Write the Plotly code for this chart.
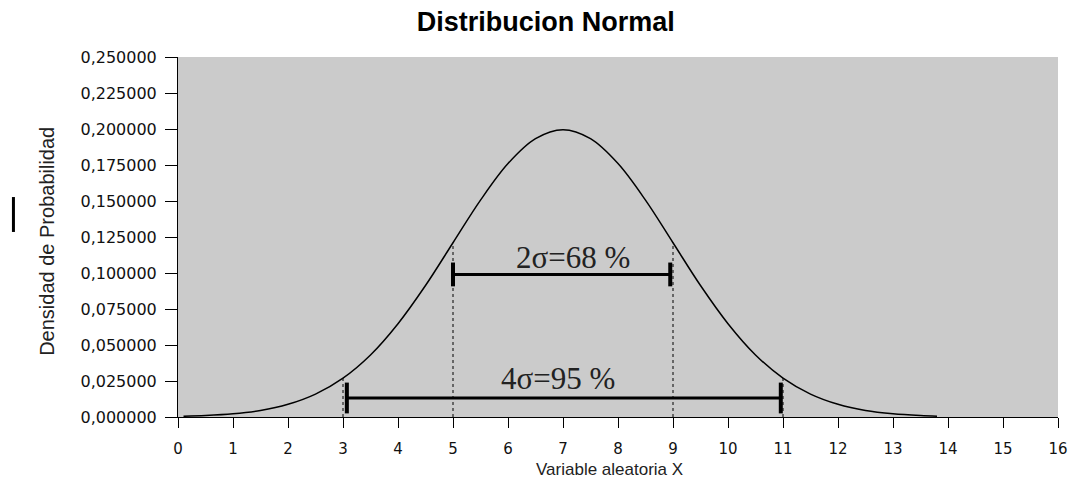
import plotly.graph_objects as go

# Curve values (mean 7, sigma 2)
x_vals = [0.1, 0.5, 1, 1.5, 2, 2.5, 3, 3.5, 4, 4.5, 5, 5.5, 6, 6.5, 7,
          7.5, 8, 8.5, 9, 9.5, 10, 10.5, 11, 11.5, 12, 12.5, 13, 13.5, 13.8]
y_vals = [0.0005, 0.0010, 0.0022, 0.0045, 0.0088, 0.0159, 0.0270, 0.0431,
          0.0648, 0.0913, 0.1210, 0.1506, 0.1760, 0.1933, 0.1995,
          0.1933, 0.1760, 0.1506, 0.1210, 0.0913, 0.0648, 0.0431, 0.0270,
          0.0159, 0.0088, 0.0045, 0.0022, 0.0010, 0.0006]

# Dashed guide lines (x position, curve height)
guide_x = [3, 5, 9, 11]
guide_top = [0.027, 0.121, 0.121, 0.027]

# Interval bars
band_2s_x = [5.0, 8.95]
band_2s_y = 0.099
band_4s_x = [3.07, 10.96]
band_4s_y = 0.0132
label_2s = "2σ=68 %"
label_4s = "4σ=95 %"

x_ticks = list(range(0, 17))
y_ticks = [0, 0.025, 0.05, 0.075, 0.1, 0.125, 0.15, 0.175, 0.2, 0.225, 0.25]

fig = go.Figure()

for gx, gt in zip(guide_x, guide_top):
    fig.add_trace(go.Scatter(x=[gx, gx], y=[0, gt], mode='lines',
                             line=dict(color='black', width=1, dash='3px,3px'),
                             hoverinfo='skip'))

fig.add_trace(go.Scatter(x=x_vals, y=y_vals, mode='lines',
                         line=dict(color='black', width=1.5, shape='spline')))

fig.add_trace(go.Scatter(x=band_2s_x, y=[band_2s_y, band_2s_y], mode='lines+markers',
                         line=dict(color='black', width=3),
                         marker=dict(symbol='line-ns', size=17,
                                     line=dict(color='black', width=4))))
fig.add_trace(go.Scatter(x=band_4s_x, y=[band_4s_y, band_4s_y], mode='lines+markers',
                         line=dict(color='black', width=3),
                         marker=dict(symbol='line-ns', size=22,
                                     line=dict(color='black', width=4))))

fig.add_annotation(x=7.18, y=0.111, text=label_2s, showarrow=False,
                   font=dict(family='Liberation Serif', size=31, color='#222'))
fig.add_annotation(x=6.91, y=0.027, text=label_4s, showarrow=False,
                   font=dict(family='Liberation Serif', size=31, color='#222'))

# Axis titles
fig.add_annotation(xref='paper', yref='paper', x=0.49, y=-0.145,
                   xanchor='center', yanchor='middle',
                   text='Variable aleatoria X', showarrow=False,
                   font=dict(family='Liberation Sans', size=17, color='#222'))
fig.add_annotation(xref='paper', yref='paper', x=-0.149, y=0.489,
                   xanchor='center', yanchor='middle',
                   text='Densidad de Probabilidad', showarrow=False, textangle=-90,
                   font=dict(family='Liberation Sans', size=20, color='#222'))

# stray mark at the left edge
fig.add_shape(type='line', xref='paper', yref='paper',
              x0=-0.187, x1=-0.187, y0=0.514, y1=0.611,
              line=dict(color='black', width=3))

# the page body adds an 8px margin all round, so the figure is kept smaller
fig.update_layout(
    title=dict(text='<b>Distribucion Normal</b>', x=0.503, y=0.9706,
               xref='container', yref='container', xanchor='center', yanchor='middle',
               font=dict(family='Liberation Sans', size=27, color='black')),
    separators=',.',
    showlegend=False,
    width=1069,
    height=476,
    paper_bgcolor='white',
    plot_bgcolor='#cbcbcb',
    margin=dict(l=170, r=19, t=49, b=67, autoexpand=False),
)
fig.update_xaxes(range=[0, 16], tickvals=x_ticks, showgrid=False, zeroline=False,
                 showline=True, linecolor='black', linewidth=1, automargin=False,
                 ticks='outside', ticklen=10, tickcolor='black', ticklabelstandoff=8,
                 tickfont=dict(family='DejaVu Sans', size=15, color='#111'))
fig.update_yaxes(range=[0, 0.25], tickvals=y_ticks, tickformat='.6f',
                 showgrid=False, zeroline=False, automargin=False,
                 showline=True, linecolor='black', linewidth=1,
                 ticks='outside', ticklen=12, tickcolor='black', ticklabelstandoff=5,
                 tickfont=dict(family='DejaVu Sans', size=16, color='#111'))

fig.write_html("out.html")
